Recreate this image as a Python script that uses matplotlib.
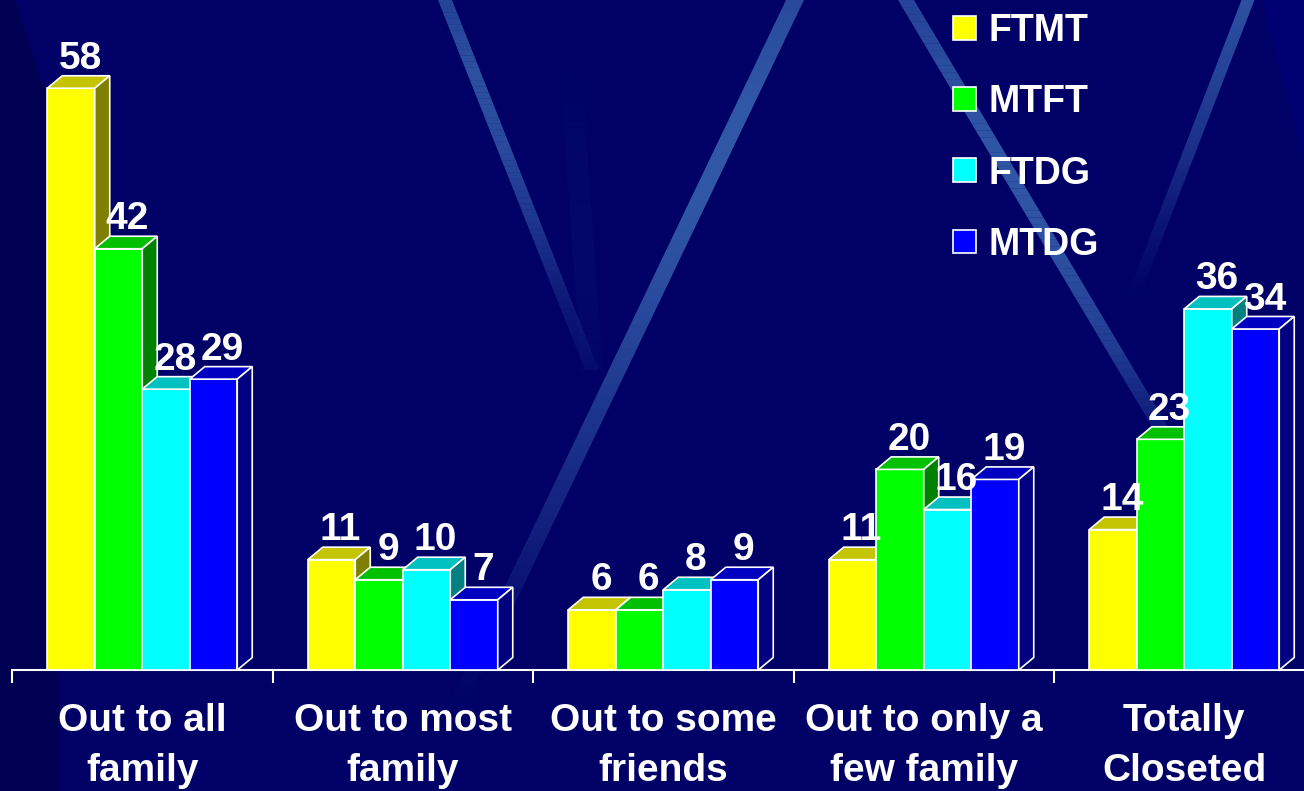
import matplotlib
matplotlib.use("Agg")
import matplotlib.pyplot as plt
from matplotlib.patches import Polygon, Patch
import numpy as np

plt.rcParams['font.family'] = ['Liberation Sans', 'DejaVu Sans']
plt.rcParams['font.weight'] = 'bold'

# data
categories = ["Out to all\nfamily", "Out to most\nfamily", "Out to some\nfriends",
              "Out to only a\nfew family", "Totally\nCloseted"]
series_names = ["FTMT", "MTFT", "FTDG", "MTDG"]
ftmt = [58, 11, 6, 11, 14]
mtft = [42, 9, 6, 20, 23]
ftdg = [28, 10, 8, 16, 36]
mtdg = [29, 7, 9, 19, 34]

front_colors = ["#FFFF00", "#00FF00", "#00FFFF", "#0000FF"]
top_colors = ["#C4C400", "#00C000", "#00C0C0", "#0000C0"]
side_colors = ["#808000", "#008000", "#008080", "#000080"]

W, H = 1304, 791
fig = plt.figure(figsize=(W / 100, H / 100), dpi=100)
fig.patch.set_facecolor("#000066")

# background with streaks (pixel coords)
bg = fig.add_axes([0, 0, 1, 1], zorder=0)
bg.set_xlim(0, W)
bg.set_ylim(H, 0)
bg.axis("off")
bg.add_patch(Polygon([(0, 0), (15, 0), (48, 100), (60, H), (0, H)],
                     closed=True, color="#000052", lw=0))
bg.add_patch(Polygon([(1262, 0), (W, 0), (W, 160)], closed=True, color="#000072", lw=0))


def streak(x0, y0, x1, y1, width, alpha_keys, color="#4A86C8", n=60):
    # alpha profile along the streak, smoothed over many short pieces
    keys = np.linspace(0, 1, len(alpha_keys))
    for k in range(n):
        t0, t1 = k / n, (k + 1) / n
        a = float(np.interp((t0 + t1) / 2, keys, alpha_keys))
        ax0, ay0 = x0 + (x1 - x0) * t0, y0 + (y1 - y0) * t0
        ax1, ay1 = x0 + (x1 - x0) * t1, y0 + (y1 - y0) * t1
        bg.add_patch(Polygon([(ax0 - width / 2, ay0), (ax0 + width / 2, ay0),
                              (ax1 + width / 2, ay1), (ax1 - width / 2, ay1)],
                             closed=True, color=color, alpha=a, lw=0))


streak(445, 0, 592, 370, 14, [0.5, 0.6, 0.55, 0.4, 0.2, 0.05])
streak(570, 60, 592, 370, 22, [0.0, 0.08, 0.1, 0.06], color="#2A5090")
streak(795, 0, 450, 720, 18, [0.55, 0.65, 0.65, 0.55, 0.4, 0.25, 0.1, 0.0])
streak(906, 0, 1165, 435, 16, [0.5, 0.6, 0.65, 0.6, 0.45, 0.15])
streak(1248, 0, 1132, 300, 13, [0.6, 0.5, 0.35, 0.15, 0.0])

# main axes: group boundaries at pixels 12, 272.5, ... ; baseline at y=670
px_per_group = 260.5
left = 12 / W
width = 5 * px_per_group / W
bottom = (H - 670) / H
height = 670 / H
ax = fig.add_axes([left, bottom, width, height], zorder=1)
ax.set_facecolor("none")
ax.set_xlim(-0.5, 4.5)
ymax = 670 / 10.03
ax.set_ylim(0, ymax)

bar_w = 47.5 / px_per_group
dx = 15 / px_per_group
dy = 12.5 / 10.03

all_vals = [ftmt, mtft, ftdg, mtdg]
x = np.arange(len(categories))
for i, vals in enumerate(all_vals):
    xs = x + (i - 1.5) * bar_w
    ax.bar(xs, vals, width=bar_w, color=front_colors[i], edgecolor="white",
           linewidth=1.2, zorder=2 + i)
    for xc, h in zip(xs, vals):
        x0 = xc - bar_w / 2
        x1 = xc + bar_w / 2
        ax.add_patch(Polygon([(x0, h), (x0 + dx, h + dy), (x1 + dx, h + dy), (x1, h)],
                             closed=True, facecolor=top_colors[i], edgecolor="white",
                             linewidth=1.2, zorder=2 + i))
        ax.add_patch(Polygon([(x1, 0), (x1 + dx, dy), (x1 + dx, h + dy), (x1, h)],
                             closed=True, facecolor=side_colors[i], edgecolor="white",
                             linewidth=1.2, zorder=2 + i))
        ax.annotate(str(h), (xc + dx * 0.6, h + dy), xytext=(0, 5),
                    textcoords="offset points", ha="center", va="baseline",
                    color="white", fontsize=28, fontweight="bold", zorder=10)

# axis styling
for s in ["top", "left", "right"]:
    ax.spines[s].set_visible(False)
ax.spines["bottom"].set_color("white")
ax.spines["bottom"].set_linewidth(1.5)
ax.set_yticks([])
ax.set_xticks(x)
ax.set_xticklabels(categories, color="white", fontsize=28, fontweight="bold",
                   linespacing=1.5)
ax.tick_params(axis="x", which="major", length=0, pad=24)
ax.set_xticks(np.arange(-0.5, 5, 1), minor=True)
ax.tick_params(axis="x", which="minor", length=9, width=1.5, color="white",
               direction="out")

handles = [Patch(facecolor=c, edgecolor="white", linewidth=1.2) for c in front_colors]
leg = fig.legend(handles, series_names, loc="upper left",
                 bbox_to_anchor=(953 / W, 1 - 13 / H), frameon=False,
                 fontsize=27, handlelength=0.6, handleheight=0.6,
                 handletextpad=0.35, labelspacing=0.94, borderpad=0, borderaxespad=0)
for t in leg.get_texts():
    t.set_color("white")
    t.set_fontweight("bold")

fig.savefig("out.png", dpi=100, facecolor=fig.get_facecolor())
